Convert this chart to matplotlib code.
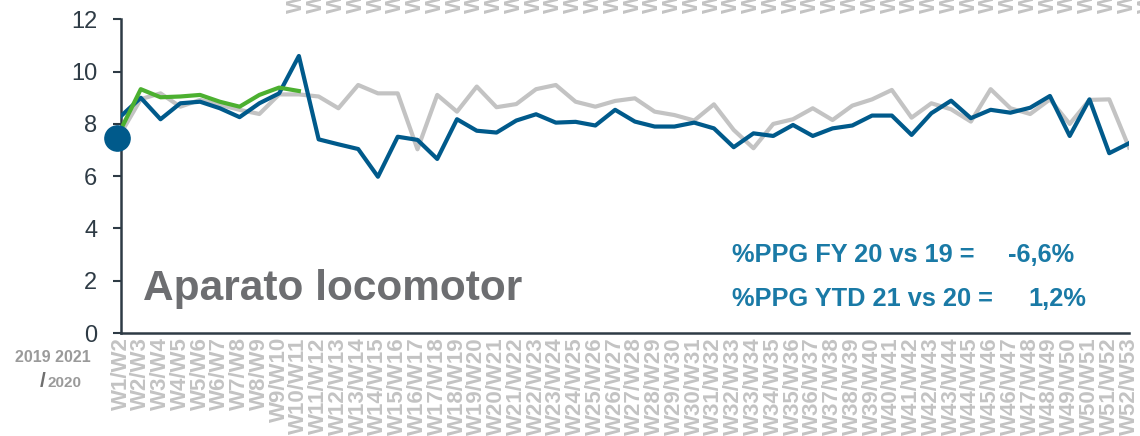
import matplotlib
matplotlib.use("Agg")
import matplotlib.pyplot as plt

plt.rcParams['font.family'] = ['Liberation Sans', 'DejaVu Sans']

# semanas W1/W2 ... W52/W53
semanas = [f"W{i}/W{i + 1}" for i in range(1, 53)]

serie_2021 = [8.3, 9.0, 8.18, 8.79, 8.85, 8.6, 8.26, 8.79, 9.17, 10.6,
              7.41, 7.22, 7.04, 5.98, 7.51, 7.39, 6.66, 8.18, 7.74, 7.67,
              8.13, 8.37, 8.05, 8.08, 7.94, 8.54, 8.09, 7.9, 7.9, 8.05,
              7.83, 7.11, 7.64, 7.54, 7.96, 7.54, 7.83, 7.94, 8.32, 8.32,
              7.58, 8.41, 8.89, 8.22, 8.54, 8.43, 8.62, 9.07, 7.54, 8.94,
              6.88, 7.26]
serie_2019 = [7.65, 8.95, 9.17, 8.66, 8.92, 8.73, 8.54, 8.38, 9.13, 9.13,
              9.05, 8.6, 9.49, 9.17, 9.17, 7.03, 9.11, 8.47, 9.43, 8.64,
              8.76, 9.33, 9.49, 8.85, 8.66, 8.88, 8.98, 8.47, 8.34, 8.13,
              8.75, 7.77, 7.07, 8.0, 8.18, 8.6, 8.15, 8.7, 8.94, 9.3,
              8.24, 8.79, 8.56, 8.09, 9.33, 8.6, 8.38, 8.94, 8.0, 8.92,
              8.94, 7.1]
serie_2020 = [7.8, 9.33, 9.02, 9.05, 9.11, 8.85, 8.66, 9.11, 9.39, 9.26]
punto_inicial = 7.46

AZUL = '#005a8b'
GRIS = '#c3c3c3'
VERDE = '#4cb030'
TEAL = '#1a7aa6'
OSCURO = '#2e3b45'

W, H = 1140, 436
fig = plt.figure(figsize=(W / 100, H / 100), dpi=100)
ax = fig.add_axes([121 / W, 103 / H, (1129 - 121) / W, (333 - 19.4) / H])

x = list(range(len(semanas)))
ax.plot(x, serie_2019, color=GRIS, lw=3, zorder=2)
ax.plot(x, serie_2021, color=AZUL, lw=3, zorder=3)
ax.plot(x[:len(serie_2020)], serie_2020, color=VERDE, lw=3, zorder=4)
ax.scatter([-0.2], [punto_inicial], s=330, color=AZUL, zorder=5, clip_on=False)

ax.set_xlim(0, len(semanas) - 1)
ax.set_ylim(0, 12)
ax.set_yticks(range(0, 13, 2))
ax.set_xticks(x)
ax.set_xticklabels(semanas, rotation=90, fontsize=16, fontweight='bold', color=GRIS)
ax.tick_params(axis='x', length=0, pad=3)
ax.tick_params(axis='y', length=6, width=1.5, color=OSCURO, pad=11,
               labelsize=17, labelcolor=OSCURO)
for lado in ['top', 'right']:
    ax.spines[lado].set_visible(False)
for lado in ['left', 'bottom']:
    ax.spines[lado].set_color(OSCURO)
    ax.spines[lado].set_linewidth(1.8)

fig.text(143 / W, 1 - 300 / H, 'Aparato locomotor', fontsize=30.5, fontweight='bold',
         color='#6d6e71', va='baseline')
fig.text(732 / W, 1 - 262 / H, '%PPG FY 20 vs 19 =', fontsize=18.3, fontweight='bold',
         color=TEAL, va='baseline')
fig.text(1008 / W, 1 - 262 / H, '-6,6%', fontsize=18.3, fontweight='bold',
         color=TEAL, va='baseline')
fig.text(732 / W, 1 - 306 / H, '%PPG YTD 21 vs 20 =', fontsize=18.3, fontweight='bold',
         color=TEAL, va='baseline')
fig.text(1028 / W, 1 - 306 / H, '1,2%', fontsize=18.3, fontweight='bold',
         color=TEAL, va='baseline')

fig.text(53 / W, 1 - 357 / H, '2019 2021', fontsize=11.5, fontweight='bold',
         color='#9a9a9a', ha='center', va='center')
fig.text(46 / W, 1 - 381 / H, '/', fontsize=15, fontweight='bold',
         color='#6f6f6f', ha='right', va='center')
fig.text(47 / W, 1 - 383 / H, '2020', fontsize=11, fontweight='bold',
         color='#9a9a9a', ha='left', va='center')

# restos de etiquetas del gráfico superior (cortadas)
for i in range(9, len(semanas) + 1):
    px = 121 + 19.77 * i - 2
    fig.text(px / W, 1 - 13 / H, semanas[(i - 9) % len(semanas)], rotation=90,
             fontsize=16, fontweight='bold', color=GRIS, ha='center', va='bottom')

fig.savefig('out.png', dpi=100)
